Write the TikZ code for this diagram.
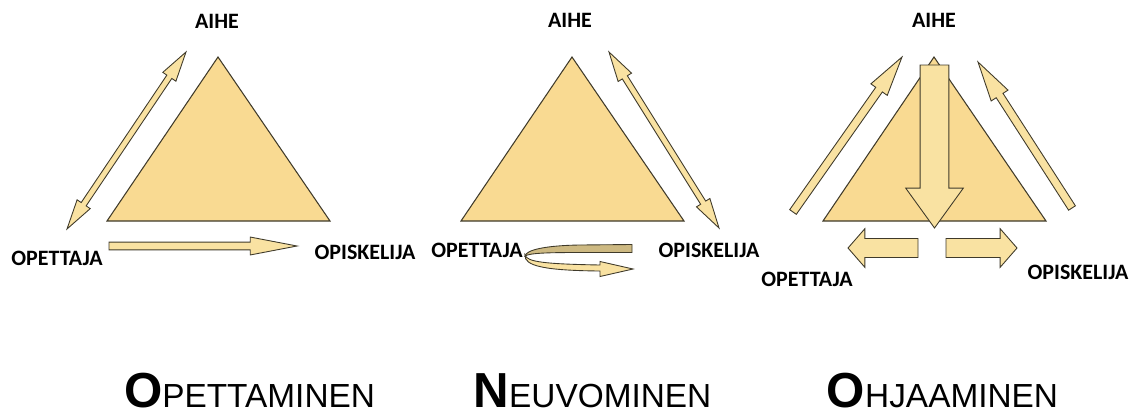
\documentclass[tikz,border=0pt]{standalone}
\usepackage{fontspec}
\usetikzlibrary{calc}
\newfontfamily\labelfont{Carlito}
\newfontfamily\titlefont{Liberation Sans}
\definecolor{trifill}{HTML}{F9DA92}
\definecolor{arrowfill}{HTML}{F9E2A2}
\definecolor{backfill}{HTML}{CDB982}
\definecolor{edgecol}{HTML}{3F3A2A}
\tikzset{
  tri/.style={draw=edgecol,fill=trifill,line width=0.6pt},
  blk/.style={draw=edgecol,fill=arrowfill,line width=0.5pt},
  lbl/.style={font=\labelfont\bfseries\fontsize{12.5}{14}\selectfont,inner sep=0pt},
  ttl/.style={anchor=base,inner sep=0pt,font=\titlefont}
}
% block arrow: from, to, shaft half width, head half width, head length
\newcommand\onearrow[5]{
  \coordinate (hb) at ($(#2)!#5!(#1)$);
  \draw[blk] ($(#1)!#3!90:(#2)$) -- ($(hb)!#3!-90:(#1)$) -- ($(hb)!#4!-90:(#1)$)
    -- (#2) -- ($(hb)!#4!90:(#1)$) -- ($(hb)!#3!90:(#1)$) -- ($(#1)!#3!-90:(#2)$) -- cycle;
}
\newcommand\twoarrow[5]{
  \coordinate (ha) at ($(#1)!#5!(#2)$);
  \coordinate (hb) at ($(#2)!#5!(#1)$);
  \draw[blk] (#1) -- ($(ha)!#4!90:(#2)$) -- ($(ha)!#3!90:(#2)$) -- ($(hb)!#3!-90:(#1)$)
    -- ($(hb)!#4!-90:(#1)$) -- (#2) -- ($(hb)!#4!90:(#1)$) -- ($(hb)!#3!90:(#1)$)
    -- ($(ha)!#3!-90:(#2)$) -- ($(ha)!#4!-90:(#2)$) -- cycle;
}
\newcommand\ttlword[2]{{\bfseries\fontsize{28}{28}\selectfont #1}{\fontsize{19}{20}\selectfont #2}}
\begin{document}
\begin{tikzpicture}[x=0.02cm,y=-0.02cm]
  \useasboundingbox (0,0) rectangle (1132,416);
  \foreach \i/\x in {1/218,2/572,3/934} {
    \coordinate (top\i) at (\x,57);
    \coordinate (left\i) at (\x-111,221);
    \coordinate (right\i) at (\x+112,221);
    \draw[tri] (top\i) -- (left\i) -- (right\i) -- cycle;
  }
  \foreach \i/\ax/\ay/\ox/\oy/\sx/\sy in {1/217/21/57/258/365/252,
                                          2/570/20/477/250/709/250,
                                          3/934/20/807/279/1078/272} {
    \node[lbl] (aihe\i) at (\ax,\ay) {AIHE};
    \node[lbl] (opettaja\i) at (\ox,\oy) {OPETTAJA};
    \node[lbl] (opiskelija\i) at (\sx,\sy) {OPISKELIJA};
  }

  \coordinate (t1) at (67,229);   \coordinate (a1) at (186,52);
  \coordinate (o1) at (109,246);  \coordinate (s1) at (297,246);
  \twoarrow{t1}{a1}{1.7pt}{4.5pt}{17pt}
  \onearrow{o1}{s1}{2.2pt}{5.1pt}{26.6pt}

  \coordinate (a2) at (609,52);   \coordinate (s2) at (719,228);
  \twoarrow{a2}{s2}{1.7pt}{4.5pt}{17pt}
  \draw[draw=edgecol,fill=backfill,line width=0.5pt] (632,244.5) -- (580,245)
    .. controls (545,245.5) and (526,250) .. (525,256)
    .. controls (530,253) and (548,252.5) .. (580,252.5) -- (632,252.5) -- cycle;
  \draw[blk] (525,255) .. controls (527,262) and (545,264) .. (600,265)
    -- (600,261.5) -- (633,269) -- (600,276.5) -- (600,271)
    .. controls (545,270.5) and (524,266) .. (525,255) -- cycle;

  \coordinate (t3) at (793,212);  \coordinate (a3) at (902,57);
  \coordinate (s3) at (1072,208); \coordinate (b3) at (978,62);
  \coordinate (d3) at (934.5,65); \coordinate (e3) at (934.5,228);
  \coordinate (l3) at (918,248);  \coordinate (m3) at (848,248);
  \coordinate (r3) at (946,248);  \coordinate (n3) at (1017,248);
  \onearrow{t3}{a3}{2.3pt}{5.7pt}{22.7pt}
  \onearrow{s3}{b3}{2.3pt}{5.7pt}{22.7pt}
  \onearrow{d3}{e3}{8.2pt}{16.4pt}{22.7pt}
  \onearrow{l3}{m3}{5.4pt}{11pt}{9.6pt}
  \onearrow{r3}{n3}{5.4pt}{11pt}{9.6pt}

  \node[ttl] (opettaminen) at (249.5,407) {\ttlword{O}{PETTAMINEN}};
  \node[ttl] (neuvominen) at (592.5,407) {\ttlword{N}{EUVOMINEN}};
  \node[ttl] (ohjaaminen) at (942.5,407) {\ttlword{O}{HJAAMINEN}};
\end{tikzpicture}
\end{document}
